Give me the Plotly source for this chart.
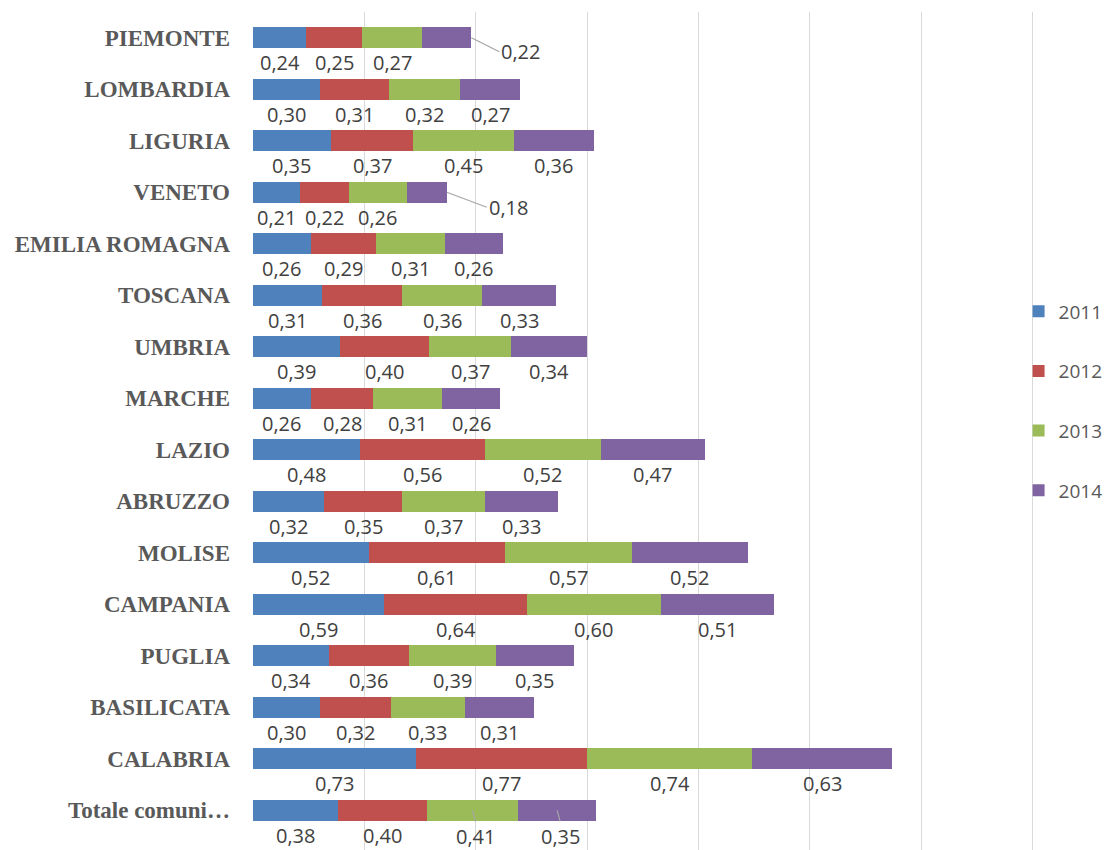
import plotly.graph_objects as go

regions = ["PIEMONTE", "LOMBARDIA", "LIGURIA", "VENETO", "EMILIA ROMAGNA", "TOSCANA",
           "UMBRIA", "MARCHE", "LAZIO", "ABRUZZO", "MOLISE", "CAMPANIA", "PUGLIA",
           "BASILICATA", "CALABRIA", "Totale comuni…"]
years = ["2011", "2012", "2013", "2014"]
v2011 = [0.24, 0.30, 0.35, 0.21, 0.26, 0.31, 0.39, 0.26, 0.48, 0.32, 0.52, 0.59, 0.34, 0.30, 0.73, 0.38]
v2012 = [0.25, 0.31, 0.37, 0.22, 0.29, 0.36, 0.40, 0.28, 0.56, 0.35, 0.61, 0.64, 0.36, 0.32, 0.77, 0.40]
v2013 = [0.27, 0.32, 0.45, 0.26, 0.31, 0.36, 0.37, 0.31, 0.52, 0.37, 0.57, 0.60, 0.39, 0.33, 0.74, 0.41]
v2014 = [0.22, 0.27, 0.36, 0.18, 0.26, 0.33, 0.34, 0.26, 0.47, 0.33, 0.52, 0.51, 0.35, 0.31, 0.63, 0.35]

series = [v2011, v2012, v2013, v2014]
colors = ["#4F81BD", "#C0504D", "#9BBB59", "#8064A2"]

fig = go.Figure()
for yr, vals, col in zip(years, series, colors):
    fig.add_trace(go.Bar(
        y=regions, x=vals, name=yr, orientation="h",
        marker=dict(color=col, line=dict(width=0)),
        width=0.41, legendgroup=yr,
    ))

# label placement tweaks (pixel offsets) for labels with leader lines
leader = {(0, 3): (28, 14), (3, 3): (40, 15)}
down_leader = {(15, 2), (15, 3)}

annotations = []
for si, vals in enumerate(series):
    for ri, v in enumerate(vals):
        base = sum(series[k][ri] for k in range(si))
        txt = f"{v:.2f}".replace(".", ",")
        font = dict(family="Open Sans", size=20, color="#404040")
        if (ri, si) in leader:
            ax, ay = leader[(ri, si)]
            annotations.append(dict(
                x=base + v, y=regions[ri], text=txt, showarrow=True, arrowhead=0,
                arrowwidth=1.2, arrowcolor="#A6A6A6", ax=ax, ay=ay,
                xanchor="left", font=font, standoff=0))
        elif (ri, si) in down_leader:
            annotations.append(dict(
                x=base + v / 2, y=regions[ri], text=txt, showarrow=True, arrowhead=0,
                arrowwidth=1.2, arrowcolor="#A6A6A6", ax=3, ay=11,
                yanchor="top", font=font, standoff=0))
        else:
            annotations.append(dict(
                x=base + v / 2, y=regions[ri], text=txt, showarrow=False,
                yshift=-25, font=font))

fig.update_layout(
    barmode="stack",
    width=1110, height=842,
    margin=dict(l=245, r=83, t=4, b=0, autoexpand=False),
    plot_bgcolor="white", paper_bgcolor="white",
    annotations=annotations,
    xaxis=dict(range=[0, 3.51], dtick=0.5, showticklabels=False, showgrid=True,
               gridcolor="#D9D9D9", gridwidth=1, zeroline=False, showline=False,
               fixedrange=True),
    yaxis=dict(categoryorder="array", categoryarray=regions,
               range=[15.77, -0.5], showgrid=False, zeroline=False, showline=False,
               ticks="", ticklabelstandoff=22,
               tickfont=dict(family="Liberation Serif", size=23, color="#595959",
                             weight="bold")),
    legend=dict(x=0.979, xanchor="left", y=0.536, yanchor="middle",
                traceorder="grouped", tracegroupgap=32,
                font=dict(family="Open Sans", size=19, color="#595959"),
                itemwidth=30, bgcolor="rgba(0,0,0,0)"),
    showlegend=True,
)

fig.write_html("out.html")
